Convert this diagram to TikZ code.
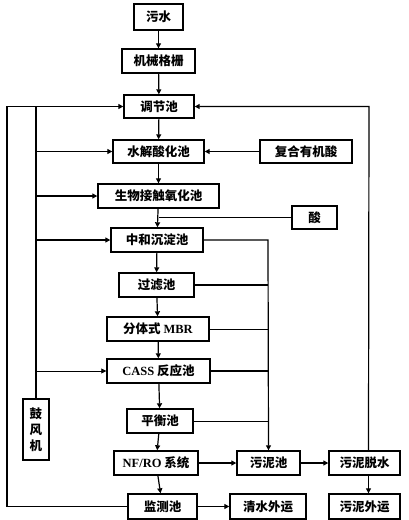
\documentclass[tikz,border=0pt]{standalone}
\usepackage{fontspec}
\setmainfont{Liberation Serif}
\newfontfamily\cjk{Noto Sans CJK SC}
\usetikzlibrary{arrows.meta}
\newcommand{\lat}{\rmfamily\bfseries}
\tikzset{
  box/.style={draw, line width=1.4pt, inner sep=0pt, minimum height=24pt, font=\cjk\bfseries\fontsize{12.5}{14}\selectfont},
  ln/.style={line width=1.2pt},
  ar/.style={line width=1.2pt, -{Triangle[length=5pt,width=5pt]}},
}
\begin{document}
\begin{tikzpicture}[x=1pt,y=-1pt]
\useasboundingbox (0,0) rectangle (408,520);
\node[box, minimum width=49pt, minimum height=26pt, line width=2.5pt] (ws) at (158.5,17) {污水};
\node[box, minimum width=73pt] (gs) at (158.5,61) {机械格栅};
\node[box, minimum width=70pt, minimum height=23pt] (tj) at (159,106.5) {调节池};
\node[box, minimum width=91pt, minimum height=23pt] (sj) at (158.5,151.5) {水解酸化池};
\node[box, minimum width=92pt, minimum height=23pt] (fh) at (306,151.5) {复合有机酸};
\node[box, minimum width=121pt] (sw) at (158.5,196) {生物接触氧化池};
\node[box, minimum width=45pt, minimum height=23pt] (suan) at (314.5,217.5) {酸};
\node[box, minimum width=92pt] (zh) at (157,240) {中和沉淀池};
\node[box, minimum width=75pt] (gl) at (156.5,285) {过滤池};
\node[box, minimum width=102pt] (mbr) at (158,329) {分体式 {\lat MBR}};
\node[box, minimum width=103pt] (cass) at (158.5,371) {{\lat CASS} 反应池};
\node[box, minimum width=66pt] (ph) at (160,421) {平衡池};
\node[box, minimum width=26pt, minimum height=61pt, align=center] (gf) at (36,429.5) {鼓\\[2pt]风\\[2pt]机};
\node[box, minimum width=84pt] (nf) at (156,463) {{\lat NF/RO} 系统};
\node[box, minimum width=63pt] (wn) at (268.5,463) {污泥池};
\node[box, minimum width=71pt] (ts) at (364.5,463) {污泥脱水};
\node[box, minimum width=69pt, minimum height=25pt] (jc) at (162.5,506.5) {监测池};
\node[box, minimum width=76pt, minimum height=25pt] (qs) at (268,506.5) {清水外运};
\node[box, minimum width=71pt, minimum height=25pt] (wy) at (364.5,506.5) {污泥外运};
% main trunk
\draw[ar] (ws) -- (gs);
\draw[ar] (gs) -- (tj);
\draw[ar] (tj) -- (sj);
\draw[ar] (sj) -- (sw);
\draw[ar] (sw) -- (zh);
\draw[ar] (zh) -- (gl);
\draw[ar] (gl) -- (mbr);
\draw[ar] (mbr) -- (cass);
\draw[ar] (cass) -- (ph);
\draw[ar] (ph) -- (nf);
\draw[ar] (nf) -- (jc);
% side inputs
\draw[ar] (fh) -- (sj);
\draw[ln] (suan.west) -- (sw.south |- suan.west);
% sludge collection
\coordinate (sx) at (268,0);
\draw[ar] (zh.east) -- (sx |- zh.east) -- (wn.north);
\draw[ln] (gl.east) -- (sx |- gl.east);
\draw[ln, line width=0.8pt] (mbr.east) -- (sx |- mbr.east);
\draw[ln, line width=1.6pt] (cass.east) -- (sx |- cass.east);
\draw[ln, line width=0.8pt] (ph.east) -- (sx |- ph.east);
\draw[ar] (nf) -- (wn);
\draw[ar] (wn) -- (ts);
\draw[ar] ([xshift=4pt]ts.south) -- ([xshift=4pt]wy.north);
\draw[ar] (jc) -- (qs);
% return to regulating tank
\coordinate (rx) at (369,0);
\draw[ar] ([xshift=4pt]ts.north) -- (rx |- tj.east) -- (tj.east);
\coordinate (lo) at (7,0);
\draw[ar] (jc.west) -- (lo |- jc.west) -- (lo |- tj.west) -- (tj.west);
% blower air lines
\coordinate (li) at (36,0);
\draw[ln] (gf.north) -- (li |- tj.west);
\draw[ar] (li |- sj.west) -- (sj.west);
\draw[ar] (li |- sw.west) -- (sw.west);
\draw[ar] (li |- zh.west) -- (zh.west);
\draw[ar, line width=0.8pt] (li |- cass.west) -- (cass.west);
\end{tikzpicture}
\end{document}
